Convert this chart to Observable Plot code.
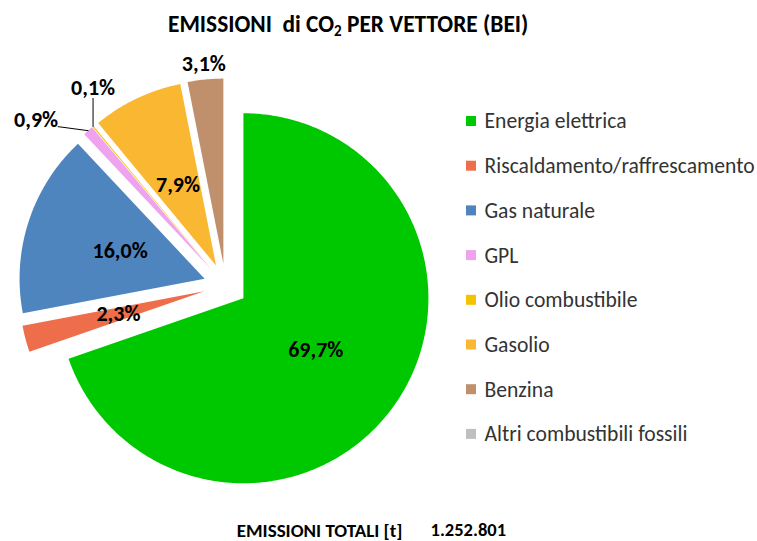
<!DOCTYPE html>
<html>
<head>
<meta charset="utf-8">
<script src="https://cdn.jsdelivr.net/npm/d3@7"></script>
<script src="https://cdn.jsdelivr.net/npm/@observablehq/plot@0.6"></script>
<style>
  html, body { margin: 0; padding: 0; background: #fff; }
  #wrap { position: relative; width: 757px; height: 541px; font-family: Carlito, Lato, "Open Sans", sans-serif; }
  #title { position: absolute; left: 168px; top: 12px; font-size: 23.4px; font-weight: bold; color: #000; white-space: pre; line-height: 24px; }
  #title sub { font-size: 15px; vertical-align: -4px; line-height: 0; }
  #chart { position: absolute; left: 0; top: 0; }
</style>
</head>
<body>
<div id="wrap">
  <div id="chart"></div>
  <div id="title">EMISSIONI  di CO<sub>2</sub> PER VETTORE (BEI)</div>
</div>
<script>
// ---- data ----
const categories = ["Energia elettrica", "Riscaldamento/raffrescamento", "Gas naturale", "GPL", "Olio combustibile", "Gasolio", "Benzina", "Altri combustibili fossili"];
const shares = [69.7, 2.3, 16.0, 0.9, 0.1, 7.9, 3.1, 0.0];
const colors = ["#00C800", "#EE6E4C", "#4F85BF", "#EFA2EE", "#F4C300", "#FAB732", "#C08F6B", "#BFBFBF"];
const totalLabel = "EMISSIONI TOTALI [t]";
const totalValue = "1.252.801";

// ---- layout ----
const W = 757, H = 541;
const cx = 225, cy = 285, R = 185, explode = 22;
const fontFam = "Carlito, Lato, 'Open Sans', sans-serif";
const labelMode = {"Benzina": "out", "GPL": "leaderLeft", "Olio combustibile": "leaderUp"};

const rows = categories.map((name, i) => ({name, share: shares[i], color: colors[i], index: i}));
const arcs = d3.pie().sort(null).value(d => d.share)(rows);

const fmt = v => v.toFixed(1).replace(".", ",") + "%";

const polyPts = [];
const labels = [];
const leaders = [];
for (const a of arcs) {
  if (a.data.share <= 0) continue;
  const mid = (a.startAngle + a.endAngle) / 2;
  const vx = cx + explode * Math.sin(mid), vy = cy - explode * Math.cos(mid);
  const pt = (ang, r) => [vx + r * Math.sin(ang), vy - r * Math.cos(ang)];
  polyPts.push({name: a.data.name, color: a.data.color, x: vx, y: vy});
  const n = Math.max(2, Math.ceil((a.endAngle - a.startAngle) / 0.01));
  for (let k = 0; k <= n; k++) {
    const [x, y] = pt(a.startAngle + (a.endAngle - a.startAngle) * k / n, R);
    polyPts.push({name: a.data.name, color: a.data.color, x, y});
  }
  polyPts.push({name: a.data.name, color: a.data.color, x: vx, y: vy});

  const mode = labelMode[a.data.name] || "in";
  const text = fmt(a.data.share);
  if (mode === "in") {
    const [x, y] = pt(mid, R * 0.48);
    labels.push({x, y, text, anchor: "middle"});
  } else if (mode === "out") {
    const [x, y] = pt(mid, R + 16);
    labels.push({x, y, text, anchor: "middle"});
  } else if (mode === "leaderUp") {
    const [x, y] = pt(mid, R);
    leaders.push({name: a.data.name, x, y}, {name: a.data.name, x, y: y - 28});
    labels.push({x, y: y - 38, text, anchor: "middle"});
  } else if (mode === "leaderLeft") {
    const [x, y] = pt(mid, R);
    leaders.push({name: a.data.name, x, y}, {name: a.data.name, x: x - 30, y: y - 4});
    labels.push({x: x - 30, y: y - 11, text, anchor: "end"});
  }
}

const legendRows = rows.map((d, i) => ({...d, ly: 121 + i * 44.7}));

const chart = Plot.plot({
  width: W, height: H,
  margin: 0,
  x: {type: "identity", axis: null},
  y: {type: "identity", axis: null},
  color: {type: "identity"},
  style: {fontFamily: fontFam, background: "#fff"},
  marks: [
    Plot.line(polyPts, {x: "x", y: "y", z: "name", fill: "color", stroke: "none", curve: "linear"}),
    Plot.line(leaders, {x: "x", y: "y", z: "name", stroke: "#000", strokeWidth: 1}),
    Plot.text(labels.filter(d => d.anchor === "middle"), {x: "x", y: "y", text: "text", fontSize: 22, fontWeight: "bold", fill: "#000", textAnchor: "middle"}),
    Plot.text(labels.filter(d => d.anchor === "end"), {x: "x", y: "y", text: "text", fontSize: 22, fontWeight: "bold", fill: "#000", textAnchor: "end"}),
    Plot.rect(legendRows, {x1: () => 466, x2: () => 476, y1: d => d.ly - 5, y2: d => d.ly + 5, fill: "color"}),
    Plot.text(legendRows, {x: () => 484, y: "ly", text: "name", fontSize: 21.6, fill: "#333", textAnchor: "start"}),
    Plot.text([totalLabel], {x: () => 402, y: () => 530, text: d => d, fontSize: 19, fontWeight: "bold", fill: "#000", textAnchor: "end"}),
    Plot.text([totalValue], {x: () => 430, y: () => 530, text: d => d, fontSize: 18.5, fontWeight: "bold", fill: "#000", textAnchor: "start"})
  ]
});
document.getElementById("chart").appendChild(chart);
</script>
</body>
</html>
